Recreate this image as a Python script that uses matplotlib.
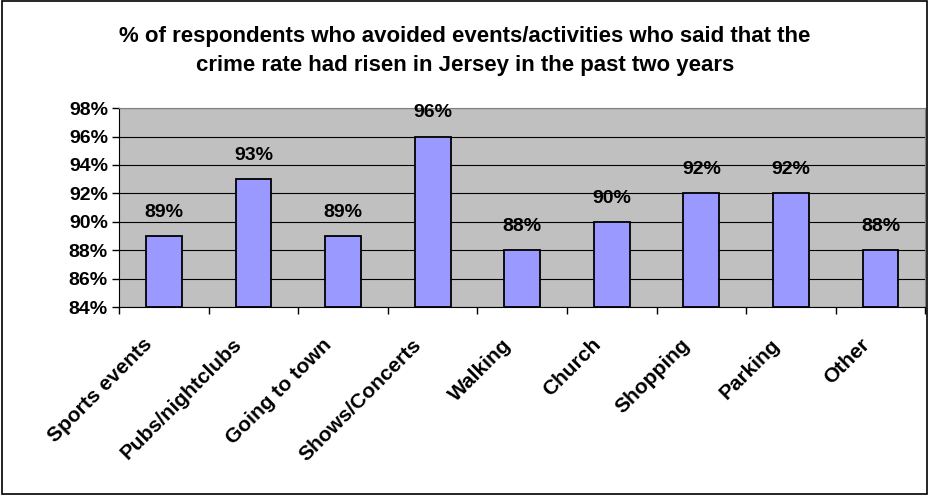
import matplotlib

matplotlib.use("Agg")
import matplotlib.pyplot as plt
from matplotlib.patches import Rectangle
from matplotlib.ticker import FuncFormatter, MultipleLocator
import numpy as np

categories = ["Sports events", "Pubs/nightclubs", "Going to town", "Shows/Concerts",
              "Walking", "Church", "Shopping", "Parking", "Other"]
values = [89, 93, 89, 96, 88, 90, 92, 92, 88]
title = ("% of respondents who avoided events/activities who said that the\n"
         "crime rate had risen in Jersey in the past two years")

plt.rcParams["font.family"] = ["Liberation Sans", "DejaVu Sans"]
plt.rcParams["font.weight"] = "bold"

fig = plt.figure(figsize=(9.3, 4.96), dpi=100)
fig.patches.append(Rectangle((0.002, 0.004), 0.995, 0.993, transform=fig.transFigure,
                             fill=False, edgecolor="black", linewidth=1.2))
ax = fig.add_axes([0.128, 0.381, 0.867, 0.401])
ax.set_facecolor("#C0C0C0")

x = np.arange(len(categories))
ax.bar(x, np.array(values) - 84, bottom=84, width=0.4, color="#9999FF",
       edgecolor="black", linewidth=1.3, zorder=3)
for xi, v in zip(x, values):
    ax.annotate(f"{v}%", (xi, v), xytext=(0, 11), textcoords="offset points",
                ha="center", va="bottom", fontsize=14, fontweight="bold")

# rotated category labels, ending just left of each category centre
for xi, name in zip(x, categories):
    ax.annotate(name, (xi, 0), xycoords=("data", "axes fraction"),
                xytext=(-21, -28), textcoords="offset pixels",
                rotation=45, rotation_mode="anchor", ha="right", va="top",
                fontsize=15, fontweight="bold", annotation_clip=False)

ax.set_ylim(84, 98)
ax.set_xlim(-0.5, len(categories) - 0.5)
ax.yaxis.set_major_locator(MultipleLocator(2))
ax.yaxis.set_major_formatter(FuncFormatter(lambda v, p: f"{v:.0f}%"))
ax.grid(axis="y", color="black", linewidth=0.8, zorder=1)
ax.set_axisbelow(True)

ax.set_xticks(np.arange(len(categories) + 1) - 0.5)
ax.set_xticklabels([])
ax.tick_params(axis="x", length=5, width=1, direction="out")
ax.tick_params(axis="y", length=5, width=1, labelsize=14, pad=3)
for lab in ax.get_yticklabels():
    lab.set_fontweight("bold")

ax.spines["top"].set_color("#808080")
ax.spines["right"].set_color("#808080")
ax.spines["left"].set_color("black")
ax.spines["bottom"].set_color("black")

fig.text(0.5, 0.948, title, ha="center", va="top", fontsize=16, fontweight="bold",
         linespacing=1.5)

fig.savefig("out.png", dpi=100)
